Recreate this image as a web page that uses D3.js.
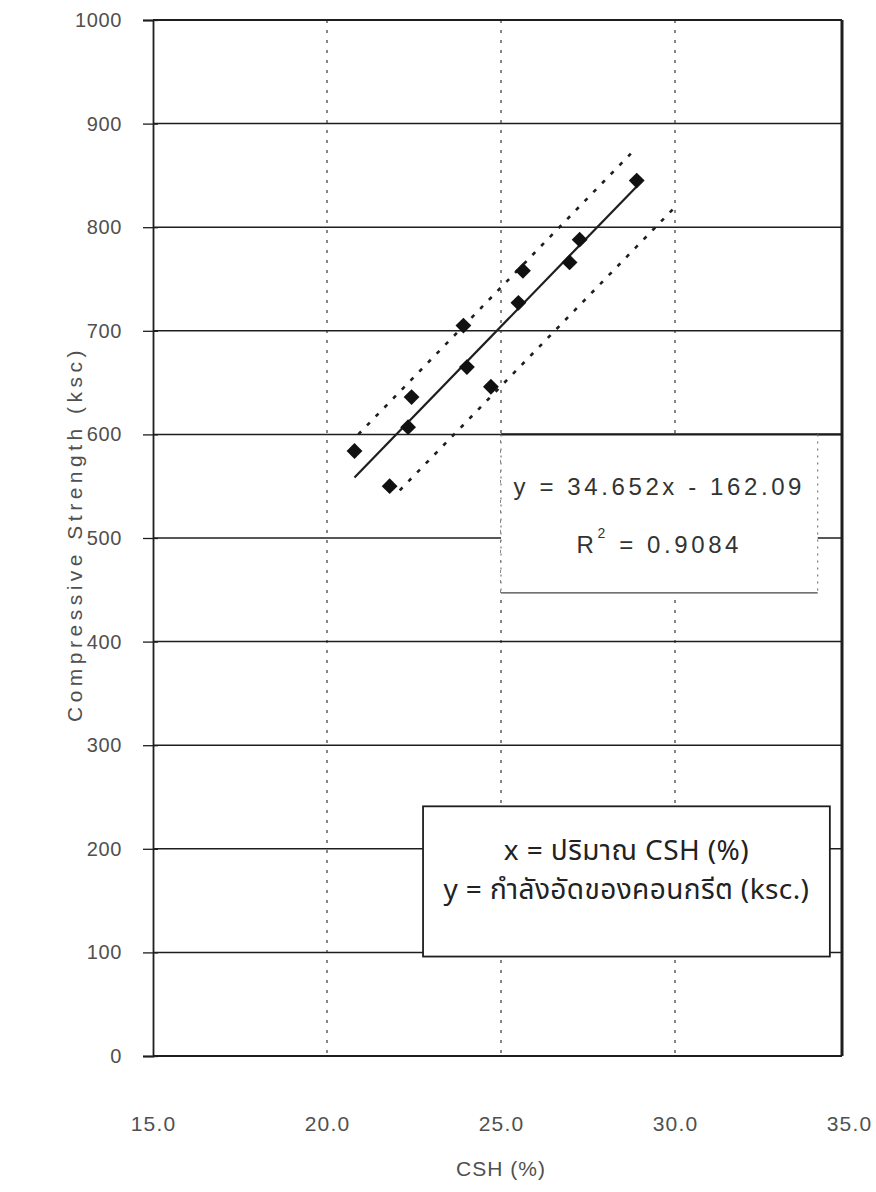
<!DOCTYPE html>
<html>
<head>
<meta charset="utf-8">
<script src="https://cdn.jsdelivr.net/npm/d3@7"></script>
<style>
  html, body { margin: 0; padding: 0; background: #fff; }
  svg { display: block; }
  text { font-family: "Liberation Sans", Arial, sans-serif; }
  .thai { font-family: "Noto Sans Thai", "Noto Sans Thai Looped", "Noto Sans", "DejaVu Sans", sans-serif; }
</style>
</head>
<body>
<svg id="chart" width="876" height="1192"></svg>
<script>
// Measured CSH content (%) and compressive strength (ksc) of the specimens
const csh      = [20.79, 21.80, 22.33, 22.43, 23.92, 24.02, 24.71, 25.50, 25.63, 26.97, 27.26, 28.90];
const strength = [584,   550,   607,   636,   705,   665,   646,   727,   758,   766,   788,   845];

// Linear trend line, as given by the equation label
const fitSlope = 34.652;
const fitIntercept = -162.09;
const fitR2 = 0.9084;

// Dotted band end points [CSH, strength]
const upperBand = [[20.90, 600], [28.73, 871]];
const lowerBand = [[22.09, 546], [29.96, 818]];

// Axis ticks
const xTicks = [15, 20, 25, 30, 35];
const yTicks = [0, 100, 200, 300, 400, 500, 600, 700, 800, 900, 1000];

// Annotation boxes in data units
const eqBox     = { x0: 25.0, x1: 34.1, y0: 447, y1: 600 };
const legendBox = { x0: 22.76, x1: 34.45, y0: 96, y1: 241 };
const legendLines = ["x = ปริมาณ CSH (%)", "y = กำลังอัดของคอนกรีต (ksc.)"];

const svg = d3.select("#chart");
const x = d3.scaleLinear().domain([15, 35]).range([153, 849]);
const y = d3.scaleLinear().domain([0, 1000]).range([1056, 20]);
const frameLeft = 153, frameRight = 842;

const ink = "#1e1e1e";
const labelInk = "#505050";

// vertical dotted grid
svg.append("g")
  .selectAll("line")
  .data(xTicks.filter(d => d > 15 && d < 35))
  .join("line")
  .attr("x1", d => x(d)).attr("x2", d => x(d))
  .attr("y1", y(1000)).attr("y2", y(0))
  .attr("stroke", "#555").attr("stroke-width", 1.4)
  .attr("stroke-dasharray", "3,7");

// horizontal grid
svg.append("g")
  .selectAll("line")
  .data(yTicks.filter(d => d > 0))
  .join("line")
  .attr("x1", frameLeft).attr("x2", frameRight)
  .attr("y1", d => y(d)).attr("y2", d => y(d))
  .attr("stroke", ink).attr("stroke-width", d => d === 1000 ? 2.2 : 1.5);

// frame: bottom axis and right edge
svg.append("line")
  .attr("x1", frameLeft).attr("x2", frameRight)
  .attr("y1", y(0)).attr("y2", y(0))
  .attr("stroke", ink).attr("stroke-width", 2);
svg.append("line")
  .attr("x1", frameRight).attr("x2", frameRight)
  .attr("y1", y(1000)).attr("y2", y(0))
  .attr("stroke", ink).attr("stroke-width", 3);

// left axis with cross ticks
const yAxis = d3.axisLeft(y).tickValues(yTicks).tickSize(10).tickPadding(21)
  .tickFormat(d3.format("d"));
const gy = svg.append("g").attr("transform", `translate(${frameLeft},0)`).call(yAxis);
gy.select(".domain").attr("stroke", ink).attr("stroke-width", 1.8);
gy.selectAll(".tick line").attr("stroke", ink).attr("stroke-width", 1.3)
  .attr("x2", -10).attr("x1", 5);
gy.selectAll(".tick text")
  .attr("font-size", 20).attr("fill", labelInk)
  .attr("letter-spacing", 0.6)
  .attr("font-family", "'Liberation Sans', Arial, sans-serif");

// bottom tick labels
const xAxis = d3.axisBottom(x).tickValues(xTicks).tickSize(0).tickPadding(60)
  .tickFormat(d3.format(".1f"));
const gx = svg.append("g").attr("transform", `translate(0,${y(0)})`).call(xAxis);
gx.select(".domain").remove();
gx.selectAll(".tick text")
  .attr("font-size", 21).attr("fill", labelInk)
  .attr("letter-spacing", 1.2)
  .attr("font-family", "'Liberation Sans', Arial, sans-serif");

// axis titles
svg.append("text")
  .attr("x", x(25)).attr("y", 1176)
  .attr("text-anchor", "middle")
  .attr("font-size", 21).attr("fill", labelInk).attr("letter-spacing", 1)
  .text("CSH (%)");
svg.append("text")
  .attr("transform", `translate(82,${y(500) - 4}) rotate(-90)`)
  .attr("text-anchor", "middle")
  .attr("font-size", 21).attr("fill", labelInk).attr("letter-spacing", 4.5)
  .text("Compressive Strength (ksc)");

// dotted bands
const line = d3.line().x(d => x(d[0])).y(d => y(d[1]));
svg.append("g")
  .selectAll("path")
  .data([upperBand, lowerBand])
  .join("path")
  .attr("d", line)
  .attr("fill", "none").attr("stroke", ink)
  .attr("stroke-width", 2.6).attr("stroke-dasharray", "4,8.5");

// trend line across the data range
const [xmin, xmax] = d3.extent(csh);
svg.append("path")
  .attr("d", line([[xmin, fitSlope * xmin + fitIntercept], [xmax, fitSlope * xmax + fitIntercept]]))
  .attr("fill", "none").attr("stroke", ink).attr("stroke-width", 2.2);

// data markers (diamonds)
const diamond = d3.symbol().type(d3.symbolDiamond2).size(160);
svg.append("g")
  .selectAll("path")
  .data(csh.map((c, i) => [c, strength[i]]))
  .join("path")
  .attr("transform", d => `translate(${x(d[0])},${y(d[1])})`)
  .attr("d", diamond)
  .attr("fill", "#111");

// equation box
const eq = svg.append("g");
eq.append("rect")
  .attr("x", x(eqBox.x0)).attr("y", y(eqBox.y1))
  .attr("width", x(eqBox.x1) - x(eqBox.x0)).attr("height", y(eqBox.y0) - y(eqBox.y1))
  .attr("fill", "#fff");
eq.append("line")
  .attr("x1", x(eqBox.x0)).attr("x2", frameRight).attr("y1", y(eqBox.y1)).attr("y2", y(eqBox.y1))
  .attr("stroke", ink).attr("stroke-width", 2.2);
eq.append("line")
  .attr("x1", x(eqBox.x0)).attr("x2", x(eqBox.x1)).attr("y1", y(eqBox.y0)).attr("y2", y(eqBox.y0))
  .attr("stroke", "#444").attr("stroke-width", 1.4);
eq.selectAll("line.side")
  .data([eqBox.x0, eqBox.x1])
  .join("line").attr("class", "side")
  .attr("x1", d => x(d)).attr("x2", d => x(d))
  .attr("y1", y(eqBox.y1)).attr("y2", y(eqBox.y0))
  .attr("stroke", "#777").attr("stroke-width", 1.2).attr("stroke-dasharray", "2,5");
const eqCx = (x(eqBox.x0) + x(eqBox.x1)) / 2;
eq.append("text")
  .attr("x", eqCx).attr("y", y(eqBox.y1) + 61)
  .attr("text-anchor", "middle")
  .attr("font-size", 24).attr("fill", "#333").attr("letter-spacing", 3.6)
  .text(`y = ${fitSlope}x - ${Math.abs(fitIntercept)}`);
const r2 = eq.append("text")
  .attr("x", eqCx).attr("y", y(eqBox.y1) + 119)
  .attr("text-anchor", "middle")
  .attr("font-size", 24).attr("fill", "#333").attr("letter-spacing", 3.6);
r2.append("tspan").text("R");
r2.append("tspan").attr("dy", -15).attr("font-size", 14).text("2");
r2.append("tspan").attr("dy", 15).text(` = ${fitR2}`);

// variable legend box
const lg = svg.append("g");
lg.append("rect")
  .attr("x", x(legendBox.x0)).attr("y", y(legendBox.y1))
  .attr("width", x(legendBox.x1) - x(legendBox.x0)).attr("height", y(legendBox.y0) - y(legendBox.y1))
  .attr("fill", "#fff").attr("stroke", ink).attr("stroke-width", 1.8);
const lgCx = (x(legendBox.x0) + x(legendBox.x1)) / 2;
lg.selectAll("text")
  .data(legendLines)
  .join("text")
  .attr("class", "thai")
  .attr("x", lgCx).attr("y", (d, i) => y(legendBox.y1) + 54 + i * 39)
  .attr("text-anchor", "middle")
  .attr("font-size", 28).attr("fill", "#222").attr("letter-spacing", 0.4)
  .text(d => d);
</script>
</body>
</html>
